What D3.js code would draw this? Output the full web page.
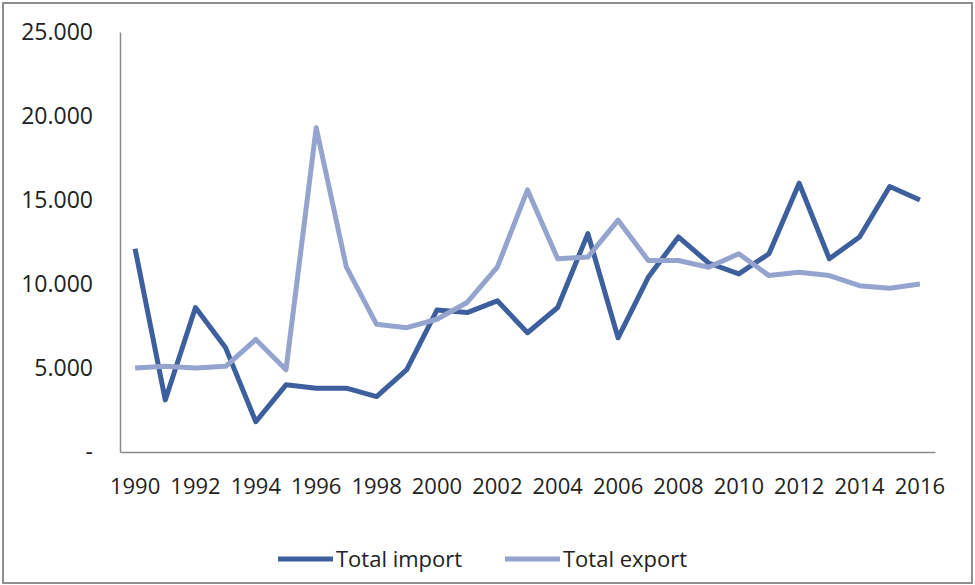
<!DOCTYPE html>
<html>
<head>
<meta charset="utf-8">
<script src="https://cdn.jsdelivr.net/npm/d3@7"></script>
<style>
  body { margin: 0; background: #fff; }
  text { font-family: "Open Sans", "DejaVu Sans", sans-serif; fill: #222; }
</style>
</head>
<body>
<div id="chart"></div>
<script>
// values (thousands of units)
var years = d3.range(1990, 2017)
var importVals = [12.1, 3.1, 8.6, 6.2, 1.8, 4.0, 3.8, 3.8, 3.3, 4.9,
                  8.45, 8.3, 9.0, 7.1, 8.6, 13.0, 6.8, 10.4, 12.8, 11.25,
                  10.6, 11.8, 16.0, 11.5, 12.8, 15.8, 15.0]
var exportVals = [5.0, 5.1, 5.0, 5.1, 6.7, 4.9, 19.3, 11.0, 7.6, 7.4,
                  7.9, 8.9, 11.0, 15.6, 11.5, 11.6, 13.8, 11.4, 11.4, 11.0,
                  11.8, 10.5, 10.7, 10.5, 9.9, 9.75, 10.0]
var yTicks = [0, 5000, 10000, 15000, 20000, 25000]
var xTicks = years.filter(d => d % 2 == 0)
var seriesNames = ['Total import', 'Total export']
var seriesColors = ['#3e5f9d', '#94a4cf']

var W = 975, H = 585
var margin = {top: 32, right: 40, bottom: 133, left: 120}

var svg = d3.select("#chart")
  .append("svg")
  .attr("width", W)
  .attr("height", H)

// outer frame
svg.append("rect")
  .attr("x", 3).attr("y", 3)
  .attr("width", W - 6).attr("height", H - 5)
  .attr("fill", "#fff")
  .attr("stroke", "#8f8f8f")
  .attr("stroke-width", 2)

var x = d3.scaleBand()
  .domain(years)
  .range([margin.left, W - margin.right])

var y = d3.scaleLinear()
  .domain([0, 25000])
  .range([H - margin.bottom, margin.top])

var loc = d3.formatLocale({decimal: ",", thousands: ".", grouping: [3], currency: ["", ""]})
var fmt = loc.format(",")

// y axis
var yAxis = svg.append("g")
  .attr("transform", `translate(${margin.left},0)`)
  .call(d3.axisLeft(y).tickValues(yTicks).tickSize(0).tickPadding(27)
          .tickFormat(d => d == 0 ? "-" : fmt(d)))
yAxis.select(".domain").attr("stroke", "#8a8a8a").attr("stroke-width", 1.5)
yAxis.selectAll("text").style("font-size", "23px").attr("fill", "#222")

// x axis
var xAxis = svg.append("g")
  .attr("transform", `translate(0,${H - margin.bottom})`)
  .call(d3.axisBottom(x).tickValues(xTicks).tickSize(0).tickPadding(26))
xAxis.select(".domain").attr("stroke", "#8a8a8a").attr("stroke-width", 1.5)
xAxis.selectAll("text").style("font-size", "22px").attr("fill", "#222")

var line = d3.line()
  .x((d, i) => x(years[i]) + x.bandwidth() / 2)
  .y(d => y(d * 1000))

// export is drawn after import, as in the picture
var allSeries = [importVals, exportVals]
allSeries.forEach(function(vals, k) {
  svg.append("path")
    .datum(vals)
    .attr("fill", "none")
    .attr("stroke", seriesColors[k])
    .attr("stroke-width", 5)
    .attr("stroke-linejoin", "round")
    .attr("d", line)
})

// legend
var legend = svg.append("g")
  .attr("transform", "translate(278,559)")
var legX = [0, 227]
seriesNames.forEach(function(name, k) {
  var g = legend.append("g").attr("transform", `translate(${legX[k]},0)`)
  g.append("line")
    .attr("x1", 0).attr("x2", 55)
    .attr("stroke", seriesColors[k])
    .attr("stroke-width", 5)
  g.append("text")
    .attr("x", 58)
    .attr("dy", "0.35em")
    .style("font-size", "22px")
    .text(name)
})
</script>
</body>
</html>
